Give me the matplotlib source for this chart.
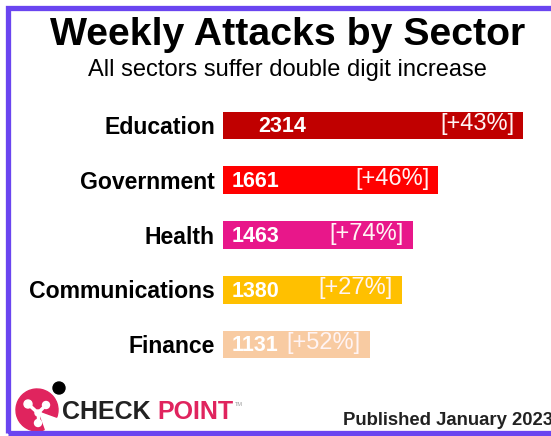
import matplotlib.pyplot as plt
from matplotlib.patches import Rectangle, Circle, Wedge

sectors = ["Education", "Government", "Health", "Communications", "Finance"]
attacks = [2314, 1661, 1463, 1380, 1131]
increase = ["[+43%]", "[+46%]", "[+74%]", "[+27%]", "[+52%]"]
colors = ["#c00000", "#ff0000", "#e8178a", "#ffc000", "#f8cba2"]

plt.rcParams["font.family"] = ["Liberation Sans", "DejaVu Sans"]

W, H = 551, 436
fig = plt.figure(figsize=(W / 100, H / 100), dpi=100)

# purple frame (right side runs off the image)
fig.patches.append(Rectangle((7.5 / W, 1 - 433 / H), 560 / W, 424.5 / H,
                             transform=fig.transFigure, fill=False,
                             edgecolor="#6a45f0", linewidth=3.8))

fig.text(288 / W, 1 - 35 / H, "Weekly Attacks by Sector", ha="center",
         va="center", fontsize=28.3, fontweight="bold")
fig.text(287 / W, 1 - 70 / H, "All sectors suffer double digit increase",
         ha="center", va="center", fontsize=17)

ax = fig.add_axes([223 / W, 1 - 372 / H, 300 / W, 274 / H])
y = range(len(sectors))
ax.barh(y, attacks, height=0.5, color=colors)
ax.set_xlim(0, max(attacks))
ax.set_ylim(len(sectors) - 0.5, -0.5)
ax.axis("off")

for i, (name, val, pct) in enumerate(zip(sectors, attacks, increase)):
    ax.text(-8 / 300, i + 0.04, name, transform=ax.get_yaxis_transform(),
            ha="right", va="center", fontsize=16.6, fontweight="bold")
    pad = 35 if i == 0 else 9
    ax.annotate(str(val), (0, i), xytext=(pad * 0.72, -1),
                textcoords="offset points", ha="left", va="center",
                fontsize=15.5, fontweight="bold", color="white")
    ax.annotate(pct, (val, i), xytext=(-9 * 0.72, 1),
                textcoords="offset points", ha="right", va="center",
                fontsize=17, color="#fff4f4")

# logo
lax = fig.add_axes([0, 0, 1, 1], facecolor="none")
lax.set_xlim(0, W)
lax.set_ylim(H, 0)
lax.axis("off")
lax.add_patch(Wedge((37, 410), 21, 70, 20, color="#e0245e"))
lax.add_patch(Circle((59, 388), 6, color="black"))
lax.plot([28, 38, 46], [404, 413, 405], color="white", lw=2.5)
lax.plot([38, 38], [413, 423], color="white", lw=2.5)
for cx, cy, r in [(28, 404, 4), (46, 405, 3.5), (38, 413, 3), (38, 423, 3.5)]:
    lax.add_patch(Circle((cx, cy), r, color="white"))
t = lax.text(62, 412, "CHECK ", ha="left", va="center", fontsize=18,
             fontweight="bold", color="#222222")
lax.annotate("POINT", xycoords=t, xy=(1, 0.5), va="center", ha="left",
             fontsize=18, fontweight="bold", color="#e0245e")
lax.text(235, 404, "TM", fontsize=4, color="#999999", ha="left", va="center")
lax.text(343, 420, "Published January 2023", ha="left", va="center",
         fontsize=13.3, fontweight="bold", color="#222222")

fig.savefig("out.png", dpi=100)
